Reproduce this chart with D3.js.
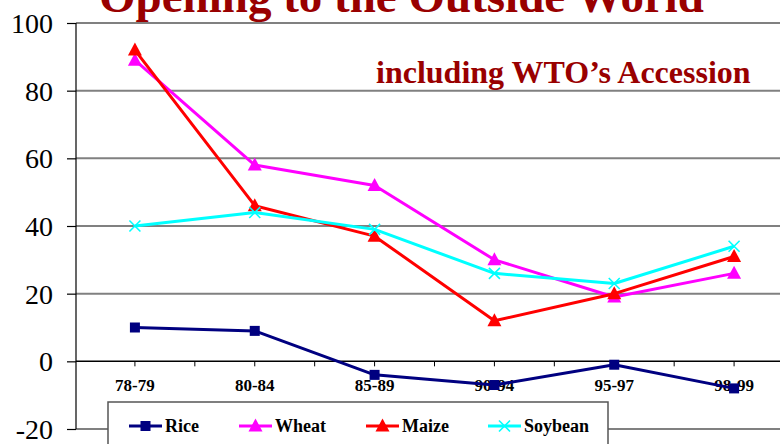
<!DOCTYPE html>
<html><head><meta charset="utf-8">
<script src="https://cdn.jsdelivr.net/npm/d3@7"></script>
<style>html,body{margin:0;padding:0;background:#fff;}svg{display:block;}</style>
</head><body>
<svg id="chart" width="780" height="444"></svg>
<script>
const categories = ["78-79","80-84","85-89","90-94","95-97","98-99"];
const rice    = [10, 9, -4, -7, -1, -8];
const wheat   = [89, 58, 52, 30, 19, 26];
const maize   = [92, 46, 37, 12, 20, 31];
const soybean = [40, 44, 39, 26, 23, 34];
const yTicks  = [-20, 0, 20, 40, 60, 80, 100];
const seriesNames = ["Rice","Wheat","Maize","Soybean"];
const seriesColors = ["#000080","#FF00FF","#FF0000","#00FFFF"];
const seriesMarkers = ["square","triangle","triangle","cross"];
const titleText = "Opening to the Outside World";
const subtitleText = "including WTO\u2019s Accession";

const series = [rice, wheat, maize, soybean].map((vals, i) => ({
  name: seriesNames[i], color: seriesColors[i], marker: seriesMarkers[i],
  values: vals.map((v, j) => ({cat: categories[j], v}))
}));

const serif = "'Liberation Serif','Times New Roman',Times,serif";
const svg = d3.select("#chart");
const axisX = 76, right = 780;
const x = d3.scalePoint().domain(categories).range([75, 794]).padding(0.5);
const y = d3.scaleLinear().domain([-20, 100]).range([429, 23]);

// title (partly cut off at the top, as in the original)
svg.append("text").attr("x", 99).attr("y", 12)
  .attr("font-family", serif).attr("font-weight", "bold").attr("font-size", 47)
  .attr("fill", "#990000").text(titleText);

// gridlines
svg.append("g").selectAll("line").data(yTicks.filter(d => d !== 0)).join("line")
  .attr("x1", axisX).attr("x2", right).attr("y1", d => y(d)).attr("y2", d => y(d))
  .attr("stroke", "#808080").attr("stroke-width", 2);

// y axis
const yAxis = svg.append("g").attr("transform", `translate(${axisX},0)`)
  .call(d3.axisLeft(y).tickValues(yTicks).tickSize(9).tickPadding(14).tickFormat(d => String(d)));
yAxis.select(".domain").remove();
yAxis.selectAll(".tick line").attr("stroke", "#000").attr("stroke-width", 1.2);
yAxis.selectAll(".tick text").attr("font-family", serif).attr("font-size", 28)
  .attr("fill", "#000").attr("dy", "0.34em");
svg.append("line").attr("x1", axisX).attr("x2", axisX).attr("y1", y(100)).attr("y2", y(-20))
  .attr("stroke", "#000").attr("stroke-width", 1.2);

// zero axis line
svg.append("line").attr("x1", axisX).attr("x2", right).attr("y1", y(0)).attr("y2", y(0))
  .attr("stroke", "#000").attr("stroke-width", 1.5);

// x ticks (at categories and between)
const step = x.step();
const tickXs = [];
categories.forEach(c => { tickXs.push(x(c)); tickXs.push(x(c) + step / 2); });
svg.append("g").selectAll("line").data(tickXs.filter(t => t < right)).join("line")
  .attr("x1", d => d).attr("x2", d => d).attr("y1", y(0)).attr("y2", y(0) + 5)
  .attr("stroke", "#000").attr("stroke-width", 1);

// x labels
svg.append("g").selectAll("text").data(categories).join("text")
  .attr("x", d => x(d)).attr("y", 391).attr("text-anchor", "middle")
  .attr("font-family", serif).attr("font-weight", "bold").attr("font-size", 17)
  .text(d => d);

// subtitle
svg.append("text").attr("x", 376).attr("y", 83)
  .attr("font-family", serif).attr("font-weight", "bold").attr("font-size", 32)
  .attr("fill", "#990000").text(subtitleText);

function drawMarker(g, type, color) {
  if (type === "square") {
    g.append("rect").attr("x", -5).attr("y", -5).attr("width", 10).attr("height", 10).attr("fill", color);
  } else if (type === "triangle") {
    g.append("path").attr("d", "M0,-7.5L7,5.5L-7,5.5Z").attr("fill", color);
  } else {
    g.append("path").attr("d", "M-5.5,-5.5L5.5,5.5M-5.5,5.5L5.5,-5.5")
      .attr("stroke", color).attr("stroke-width", 1.6).attr("fill", "none");
  }
}

const line = d3.line().x(d => x(d.cat)).y(d => y(d.v));
series.forEach(s => {
  const g = svg.append("g");
  g.append("path").datum(s.values).attr("d", line).attr("fill", "none")
    .attr("stroke", s.color).attr("stroke-width", 3).attr("stroke-linejoin", "round");
  g.selectAll("g.m").data(s.values).join("g").attr("class", "m")
    .attr("transform", d => `translate(${x(d.cat)},${y(d.v)})`)
    .each(function() { drawMarker(d3.select(this), s.marker, s.color); });
});

// legend
const lg = svg.append("g");
lg.append("rect").attr("x", 108).attr("y", 402).attr("width", 500).attr("height", 60)
  .attr("fill", "#fff").attr("stroke", "#555").attr("stroke-width", 1.5);
const legendX = [129, 239, 366, 488];
series.forEach((s, i) => {
  const it = lg.append("g").attr("transform", `translate(${legendX[i]},426)`);
  it.append("line").attr("x1", 0).attr("x2", 33).attr("y1", 0).attr("y2", 0)
    .attr("stroke", s.color).attr("stroke-width", 3);
  const m = it.append("g").attr("transform", "translate(16.5,0)");
  drawMarker(m, s.marker, s.color);
  it.append("text").attr("x", 36).attr("y", 6).attr("font-family", serif)
    .attr("font-weight", "bold").attr("font-size", 18).text(s.name);
});
</script>
</body></html>
